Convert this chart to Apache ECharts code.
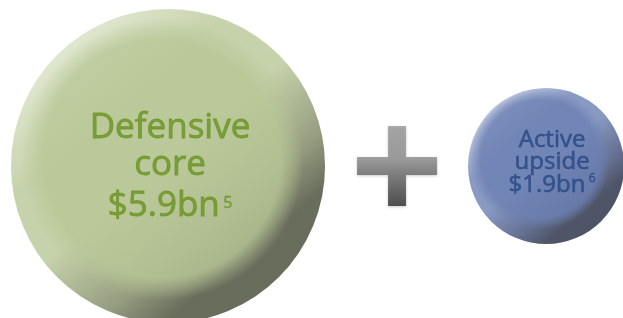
<!DOCTYPE html>
<html>
<head>
<meta charset="utf-8">
<script src="https://cdn.jsdelivr.net/npm/echarts@6/dist/echarts.min.js"></script>
<style>
  html, body { margin: 0; padding: 0; background: #fff; }
  #chart { width: 623px; height: 318px; }
</style>
</head>
<body>
<div id="chart"></div>
<script>
// data
const nameLines = [['Defensive', 'core'], ['Active', 'upside']];
const values = [5.9, 1.9]; // $bn
const notes = ['5', '6'];

// bubble diameter from value
const diameter = v => 81 + 39.5 * v;

// palette per bubble
const palettes = [
  { light: '#e4ead4', face: '#b8c796', faceT: 'rgba(184,199,150,0)', mid: '#7c8560', dark: '#434833', text: '#6a9322' },
  { light: '#cdd3e8', face: '#6b80b3', faceT: 'rgba(107,128,179,0)', mid: '#3f4d78', dark: '#232a42', text: '#284885' }
];

// row layout: left margin, bubble, gap, plus, gap, bubble
const cy = 166;
const plusSize = 80;
const r0 = diameter(values[0]) / 2;
const r1 = diameter(values[1]) / 2;
const x0 = 11 + r0;
const xPlus = x0 + r0 + 71;
const x1 = xPlus + plusSize / 2 + 32 + r1;
const centers = [x0, x1];

const chart = echarts.init(document.getElementById('chart'));

const rimData = values.map((v, i) => ({
  value: [centers[i], cy, v],
  itemStyle: {
    color: {
      type: 'linear', x: 0.12, y: 0.05, x2: 0.85, y2: 0.92,
      colorStops: [
        { offset: 0, color: palettes[i].light },
        { offset: 0.3, color: palettes[i].face },
        { offset: 0.5, color: palettes[i].face },
        { offset: 0.72, color: palettes[i].mid },
        { offset: 0.85, color: palettes[i].dark },
        { offset: 1, color: palettes[i].dark }
      ]
    }
  }
}));

const faceData = values.map((v, i) => {
  const big = i === 0;
  const fs = big ? 35 : 24;
  const txt = {
    fontFamily: 'Open Sans', color: palettes[i].text,
    textBorderColor: palettes[i].text, textBorderWidth: big ? 0.8 : 0.6
  };
  return {
    value: [centers[i], cy, v],
    itemStyle: {
      color: {
        type: 'radial', x: 0.5, y: 0.5, r: 0.5,
        colorStops: [
          { offset: 0, color: palettes[i].face },
          { offset: 0.84, color: palettes[i].face },
          { offset: 1, color: palettes[i].faceT }
        ]
      }
    },
    label: {
      show: true,
      position: 'inside',
      offset: big ? [8, 10] : [12, 4],
      formatter: '{n|' + nameLines[i][0] + '}\n{n|' + nameLines[i][1] + '}\n{v|$' + v.toFixed(1) + 'bn} {s|' + notes[i] + '}',
      color: palettes[i].text,
      rich: {
        n: Object.assign({ fontSize: fs, lineHeight: big ? 37 : 22 }, txt),
        v: Object.assign({ fontSize: fs, lineHeight: big ? 45 : 24 }, txt),
        s: Object.assign({}, txt, { fontSize: big ? 16 : 12, lineHeight: big ? 45 : 24,
             padding: big ? [0, 0, 6, 0] : [0, 0, 12, 0], textBorderWidth: 0.4 })
      }
    }
  };
});

chart.setOption({
  animation: false,
  backgroundColor: '#ffffff',
  grid: { left: 0, right: 0, top: 0, bottom: 0 },
  xAxis: { type: 'value', min: 0, max: 623, show: false },
  yAxis: { type: 'value', min: 0, max: 318, inverse: true, show: false },
  series: [
    {
      type: 'scatter',
      symbol: 'circle',
      symbolSize: d => diameter(d[2]),
      data: rimData,
      silent: true
    },
    {
      type: 'scatter',
      symbol: 'circle',
      symbolSize: d => diameter(d[2]) * 0.9,
      symbolOffset: [-6, -7],
      data: faceData,
      silent: true
    },
    {
      type: 'scatter',
      symbol: 'path://M31,0 H49 V31 H80 V49 H49 V80 H31 V49 H0 V31 H31 Z',
      symbolSize: [plusSize, plusSize],
      data: [[xPlus + 1, cy]],
      itemStyle: {
        color: {
          type: 'linear', x: 0, y: 0, x2: 0, y2: 1,
          colorStops: [
            { offset: 0, color: '#9a9a9a' },
            { offset: 0.42, color: '#8c8c8c' },
            { offset: 0.6, color: '#6a6a6a' },
            { offset: 1, color: '#2e2e2e' }
          ]
        },
        shadowColor: 'rgba(0,0,0,0.25)',
        shadowBlur: 3,
        shadowOffsetY: 1
      },
      silent: true
    }
  ]
});
</script>
</body>
</html>
